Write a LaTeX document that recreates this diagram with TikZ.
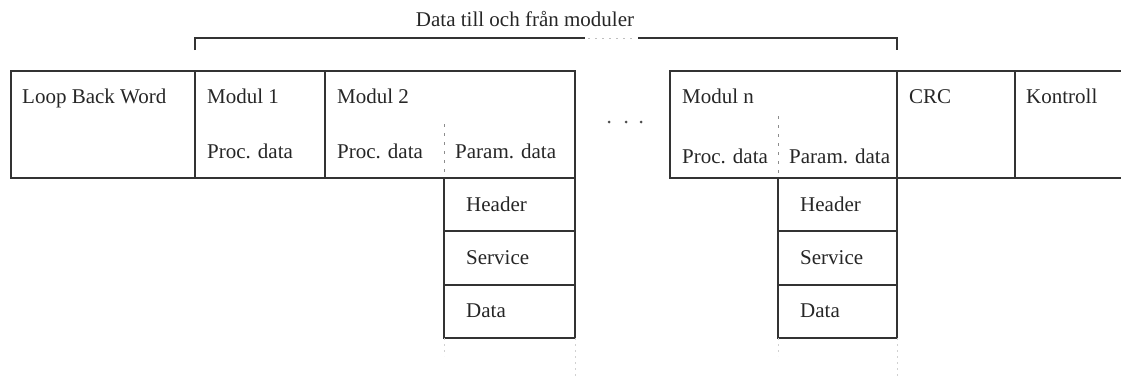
\documentclass[tikz,border=0pt]{standalone}
\usepackage{fontspec}
\setmainfont{Liberation Serif}
\begin{document}
\begin{tikzpicture}[x=1pt,y=-1pt,
  frame/.style={draw=black!80, line width=1.6pt},
  lbl/.style={anchor=base west, inner sep=0pt, font=\fontsize{21}{24}\selectfont, text=black!85},
  divider/.style={draw=black!45, line width=1pt, dash pattern=on 3pt off 6pt},
  trail/.style={draw=black!18, line width=1pt, dash pattern=on 2pt off 4pt},
  gapdots/.style={draw=black!25, line width=1pt, dash pattern=on 2pt off 5pt}]
\useasboundingbox (0,0) rectangle (1121,376);

% bracket over the module fields
\node[lbl, anchor=base] (title) at (525,26) {Data till och från moduler};
\coordinate (bl) at (195,50);
\coordinate (br) at (897,50);
\draw[frame, line width=1.4pt] (bl) -- (195,38) -- (585,38);
\draw[gapdots] (588,38) -- (636,38);
\draw[frame, line width=1.4pt] (638,38) -- (897,38) -- (br);

% left part of the frame
\draw[frame] (11,71) rectangle (575,178);
\draw[frame] (195,71) -- (195,178);
\draw[frame] (325,71) -- (325,178);
\draw[divider] (444,124) -- (444,178);

% right part of the frame (open towards the right)
\draw[frame] (1125,71) -- (670,71) -- (670,178) -- (1125,178);
\draw[frame] (897,71) -- (897,178);
\draw[frame] (1015,71) -- (1015,178);
\draw[divider] (778,116) -- (778,178);

% continuation dots
\foreach \px in {609,626,641} \fill[black!70] (\px,122) circle (1.5pt);

% parameter data sub-fields of Modul 2
\draw[frame] (444,178) rectangle (575,338);
\draw[frame] (444,231) -- (575,231);
\draw[frame] (444,285) -- (575,285);
\draw[trail] (444,338) -- (444,356);
\draw[trail] (575,338) -- (575,376);

% parameter data sub-fields of Modul n
\draw[frame] (778,178) rectangle (897,338);
\draw[frame] (778,231) -- (897,231);
\draw[frame] (778,285) -- (897,285);
\draw[trail] (778,338) -- (778,356);
\draw[trail] (897,338) -- (897,376);

% field labels
\node[lbl] (lbw) at (22,103) {Loop Back Word};
\node[lbl] (m1) at (207,103) {Modul 1};
\node[lbl] (m1p) at (207,158) {Proc. data};
\node[lbl] (m2) at (337,103) {Modul 2};
\node[lbl] (m2p) at (337,158) {Proc. data};
\node[lbl] (m2q) at (455,158) {Param. data};
\node[lbl] (mn) at (682,103) {Modul n};
\node[lbl] (mnp) at (682,163) {Proc. data};
\node[lbl] (mnq) at (789,163) {Param. data};
\node[lbl] (crc) at (909,103) {CRC};
\node[lbl] (ktl) at (1026,103) {Kontroll};

\node[lbl] (h2) at (466,211) {Header};
\node[lbl] (s2) at (466,264) {Service};
\node[lbl] (d2) at (466,317) {Data};
\node[lbl] (hn) at (800,211) {Header};
\node[lbl] (sn) at (800,264) {Service};
\node[lbl] (dn) at (800,317) {Data};
\end{tikzpicture}
\end{document}
